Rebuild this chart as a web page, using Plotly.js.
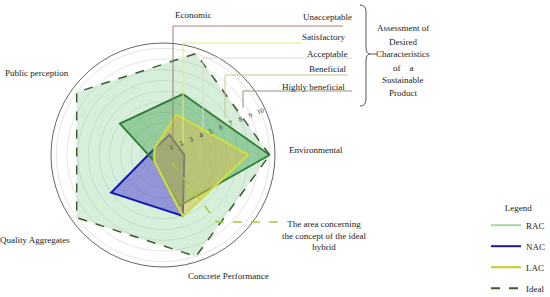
<!DOCTYPE html>
<html>
<head>
<meta charset="utf-8">
<script src="https://cdn.plot.ly/plotly-3.0.1.min.js"></script>
<style>html,body{margin:0;padding:0;background:#fff;}#chart{width:550px;height:297px;}</style>
</head>
<body>
<div id="chart"></div>
<script>
// ---- data ----
const categories = ["Environmental", "Economic", "Public perception", "Quality Aggregates", "Concrete Performance"];
const racValues = [10, 6, 5, 1, 5];
const nacValues = [2, 2, 1, 6, 6];
const lacValues = [8, 4, 1, 1, 6];
const idealValues = [10, 10, 10, 10, 10];
const radialTicks = [1, 2, 3, 4, 5, 6, 7, 8, 9, 10];
const seriesNames = ["RAC", "NAC", "LAC", "Ideal"];
const levelLabels = ["Unacceptable", "Satisfactory", "Acceptable", "Beneficial", "Highly beneficial"];
const bracketText = ["Assessment of", "Desired", "Characteristics", "of\u00a0\u00a0\u00a0\u00a0a", "Sustainable", "Product"];
const idealNote = "The area concerning<br>the concept of the ideal<br>hybrid";

// ---- helpers ----
const W = 550, H = 297;
const px = x => x / W;
const py = y => 1 - y / H;
const close = a => a.concat([a[0]]);
const theta = close(categories);
const FONT = "Liberation Serif, Times New Roman, serif";

const traces = [
  {type: "scatterpolar", r: close(idealValues), theta: theta, name: seriesNames[3], showlegend: false,
   mode: "lines", fill: "toself", fillcolor: "rgba(140,205,150,0.35)",
   line: {color: "#3d5a2f", width: 1.5, dash: "dash"}},
  {type: "scatterpolar", r: close(nacValues), theta: theta, name: seriesNames[1], showlegend: false,
   mode: "lines", fill: "toself", fillcolor: "rgba(80,60,210,0.5)",
   line: {color: "#1414b4", width: 2}},
  {type: "scatterpolar", r: close(racValues), theta: theta, name: seriesNames[0], showlegend: false,
   mode: "lines", fill: "toself", fillcolor: "rgba(40,150,60,0.38)",
   line: {color: "#2e7d32", width: 1.8}},
  {type: "scatterpolar", r: close(lacValues), theta: theta, name: seriesNames[2], showlegend: false,
   mode: "lines", fill: "toself", fillcolor: "rgba(220,190,80,0.5)",
   line: {color: "#cfdc44", width: 2.2}}
];
// legend entries (single-point line traces: nothing drawn on the plot)
const legendColors = ["#a8d8a0", "#1a1aa0", "#c8c820", "#3d5a2f"];
seriesNames.forEach((n, i) => traces.push({
  type: "scatterpolar", r: [0], theta: [categories[0]], name: n, mode: "lines",
  legendgroup: "g" + i, hoverinfo: "skip",
  line: {color: legendColors[i], width: 2, dash: i === 3 ? "dash" : "solid"}
}));

const annotations = [];
function txt(text, x, y, xanchor, size) {
  annotations.push({text: text, x: px(x), y: py(y), xref: "paper", yref: "paper",
    xanchor: xanchor || "center", yanchor: "middle", showarrow: false,
    font: {family: FONT, size: size || 9, color: "#222"}});
}
// axis labels
txt(categories[1], 173, 15, "left");
txt(categories[0], 287, 150, "left");
txt(categories[2], 71, 72.5, "right");
txt(categories[3], 72, 239.5, "right");
txt(categories[4], 228, 276, "center");
// level labels
const levelY = [16.7, 37.3, 54.3, 69.3, 87.3];
const levelRight = [354, 347, 349, 348, 347];
levelLabels.forEach((l, i) => txt(l, levelRight[i], levelY[i], "right"));
// bracket text
const bY = [28.3, 41.7, 54.3, 67.7, 80.3, 93.3];
bracketText.forEach((t, i) => txt(t, 403, bY[i], "center"));
// ideal note
annotations.push({text: idealNote, x: px(324), y: py(235.5), xref: "paper", yref: "paper",
  xanchor: "center", yanchor: "middle", showarrow: false, align: "center",
  font: {family: FONT, size: 9, color: "#222"}});

const shapes = [];
function pathShape(pts, color, width, dash) {
  const d = pts.map((p, i) => (i ? "L" : "M") + px(p[0]) + "," + py(p[1])).join(" ");
  shapes.push({type: "path", xref: "paper", yref: "paper", path: d,
    line: {color: color, width: width || 1, dash: dash || "solid"}});
}
// level leader lines
pathShape([[343, 26], [173, 26], [173, 145]], "#a08070", 1);
pathShape([[302, 43], [183, 43], [183, 143]], "#e6e68a", 1);
pathShape([[352, 58], [203, 58], [203, 128]], "#d6ded0", 1);
pathShape([[348, 75], [225, 75], [225, 118]], "#c8c88a", 1);
pathShape([[352, 91], [243, 91], [243, 108]], "#8a9a80", 1);
// ideal note leader
pathShape([[172, 163], [217, 222], [284, 222]], "#a6c83c", 1.5, "dash");
// brace
(function () {
  const P = (x, y) => px(x) + "," + py(y);
  const d = "M" + P(360, 5) + " Q" + P(366, 5) + " " + P(366, 12) + " L" + P(366, 47) +
    " Q" + P(366, 54) + " " + P(370, 54) + " Q" + P(366, 54) + " " + P(366, 61) +
    " L" + P(366, 99) + " Q" + P(366, 106) + " " + P(360, 106);
  shapes.push({type: "path", xref: "paper", yref: "paper", path: d, line: {color: "#555", width: 1}});
  pathShape([[370, 54], [376, 54]], "#555", 1);
})();

const layout = {
  width: W, height: H,
  margin: {l: 0, r: 0, t: 0, b: 0, autoexpand: false},
  paper_bgcolor: "#fff",
  font: {family: FONT, size: 9, color: "#222"},
  polar: {
    domain: {x: [51 / W, 275 / W], y: [30 / H, 254 / H]},
    bgcolor: "rgba(0,0,0,0)",
    angularaxis: {type: "category", rotation: 0, direction: "counterclockwise",
      showticklabels: false, ticks: "", showgrid: false, showline: true,
      linecolor: "#666", linewidth: 1},
    radialaxis: {range: [0, 10.5], tickvals: radialTicks, ticktext: radialTicks.map(String),
      angle: 22, side: "counterclockwise", showline: false, ticks: "",
      gridcolor: "#e4e4e4", gridwidth: 1, tickfont: {family: FONT, size: 7, color: "#333"}}
  },
  showlegend: true,
  legend: {x: 486 / W, y: py(199), xanchor: "left", yanchor: "top",
    title: {text: "Legend", side: "top center", font: {family: FONT, size: 9}},
    font: {family: FONT, size: 9}, tracegroupgap: 2, traceorder: "grouped",
    itemwidth: 30, bgcolor: "rgba(0,0,0,0)"},
  annotations: annotations,
  shapes: shapes
};

Plotly.newPlot("chart", traces, layout, {displayModeBar: false, staticPlot: true});
</script>
</body>
</html>
